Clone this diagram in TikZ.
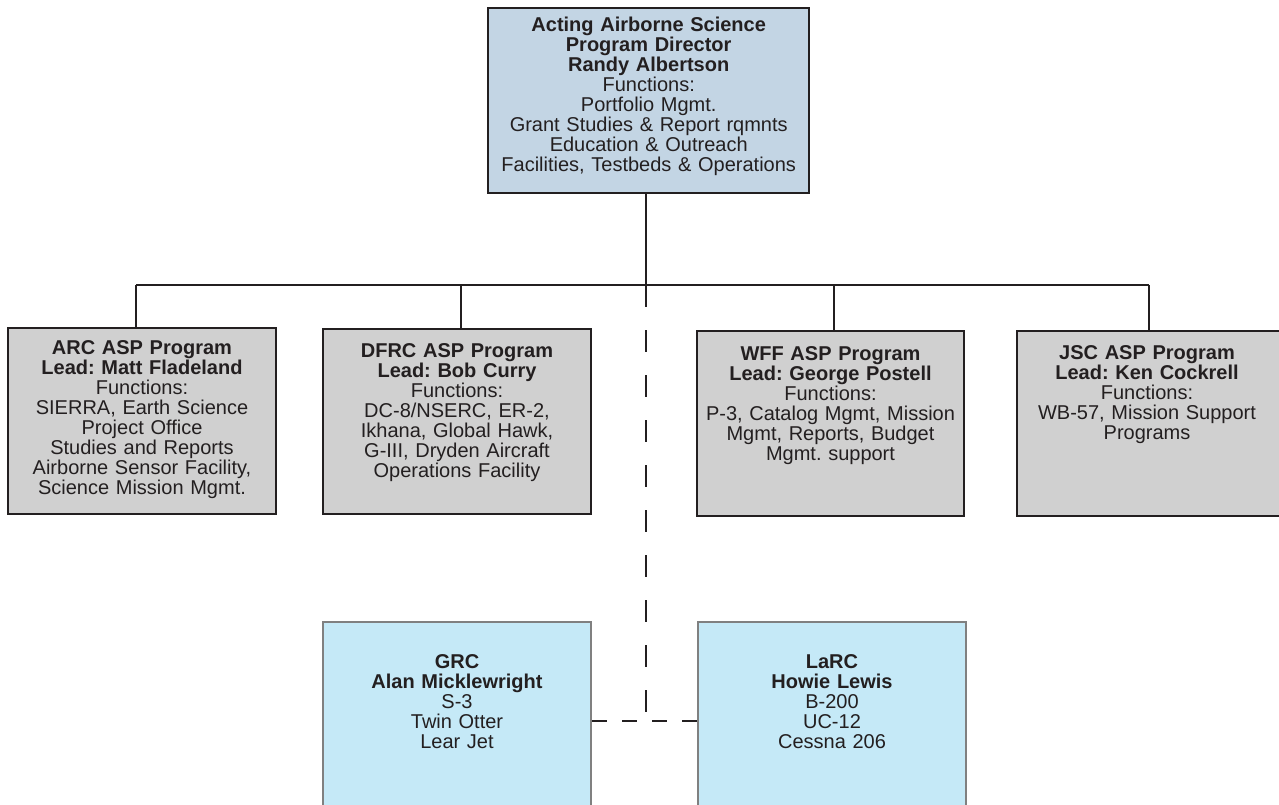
\documentclass[tikz,border=0pt]{standalone}
\usepackage{fontspec}
\setmainfont{Liberation Sans}
\usetikzlibrary{positioning}
\definecolor{inkdark}{HTML}{231F20}
\definecolor{directorfill}{HTML}{C3D5E4}
\definecolor{leadfill}{HTML}{D0D0D0}
\definecolor{partnerfill}{HTML}{C5E9F7}
\definecolor{partnerline}{HTML}{808080}
\tikzset{
  x=0.5pt, y=-0.5pt,
  every node/.style={font=\fontsize{10}{10}\selectfont\frenchspacing, text=inkdark, align=center, inner sep=0pt, anchor=north west},
  director/.style={draw=inkdark, line width=1.2pt, fill=directorfill},
  lead/.style={draw=inkdark, line width=1pt, fill=leadfill},
  partner/.style={draw=partnerline, line width=1pt, fill=partnerfill},
  boxsize/.style n args={3}{minimum width=#1, text width=#1, text height=#2, text depth=#3},
  link/.style={draw=inkdark, line width=1pt},
  dotted link/.style={link, dash pattern=on 11pt off 11.5pt},
}

\begin{document}
\begin{tikzpicture}
        \useasboundingbox (0,0) rectangle (1279,804);

        % director
        \node[director, boxsize={160.5pt}{11.5pt}{81pt}] (asp) at (487,7)
          {\textbf{Acting Airborne Science}\\ \textbf{Program Director}\\ \textbf{Randy Albertson}\\
           Functions:\\ Portfolio Mgmt.\\ Grant Studies \& Report rqmnts\\ Education \& Outreach\\
           Facilities, Testbeds \& Operations};

        % center leads
        \node[lead, boxsize={134pt}{13pt}{80pt}] (arc) at (7,327)
          {\textbf{ARC ASP Program}\\ \textbf{Lead: Matt Fladeland}\\ Functions:\\ SIERRA, Earth Science\\
           Project Office\\ Studies and Reports\\ Airborne Sensor Facility,\\ Science Mission Mgmt.};
        \node[lead, boxsize={134pt}{14pt}{78.5pt}] (dfrc) at (322,328)
          {\textbf{DFRC ASP Program}\\ \textbf{Lead: Bob Curry}\\ Functions:\\ DC-8/NSERC, ER-2,\\
           Ikhana, Global Hawk,\\ G-III, Dryden Aircraft\\ Operations Facility};
        \node[lead, boxsize={133.5pt}{14.5pt}{78pt}] (wff) at (696,330)
          {\textbf{WFF ASP Program}\\ \textbf{Lead: George Postell}\\ Functions:\\ P-3, Catalog Mgmt, Mission\\
           Mgmt, Reports, Budget\\ Mgmt. support};
        \node[lead, boxsize={137pt}{14pt}{78.5pt}] (jsc) at (1016,330)
          {\hspace*{-7pt}\textbf{JSC ASP Program}\\ \hspace*{-7pt}\textbf{Lead: Ken Cockrell}\\ \hspace*{-7pt}Functions:\\
           \hspace*{-7pt}WB-57, Mission Support\\ \hspace*{-7pt}Programs};

        % partner centers
        \node[partner, boxsize={134pt}{23pt}{116.5pt}] (grc) at (322,621)
          {\textbf{GRC}\\ \textbf{Alan Micklewright}\\ S-3\\ Twin Otter\\ Lear Jet};
        \node[partner, boxsize={134pt}{23pt}{116.5pt}] (larc) at (697,621)
          {\textbf{LaRC}\\ \textbf{Howie Lewis}\\ B-200\\ UC-12\\ Cessna 206};

        % tree
        \coordinate (hub) at (646,285);
        \coordinate (arcbus) at (136,285);
        \coordinate (dfrcbus) at (461,285);
        \coordinate (wffbus) at (834,285);
        \coordinate (jscbus) at (1149,285);
        \coordinate (tie) at (646,721);
        \draw[link] (asp.south -| hub) -- (hub);
        \draw[link] (arcbus) -- (jscbus);
        \draw[link] (arcbus) -- (arcbus |- arc.north)
                    (dfrcbus) -- (dfrcbus |- dfrc.north)
                    (wffbus) -- (wffbus |- wff.north)
                    (jscbus) -- (jscbus |- jsc.north);
        \draw[dotted link] (hub) -- (tie);
        \draw[link, dash pattern=on 7.5pt off 7.5pt] (grc.east |- tie) -- (larc.west |- tie);
      \end{tikzpicture}
\end{document}
